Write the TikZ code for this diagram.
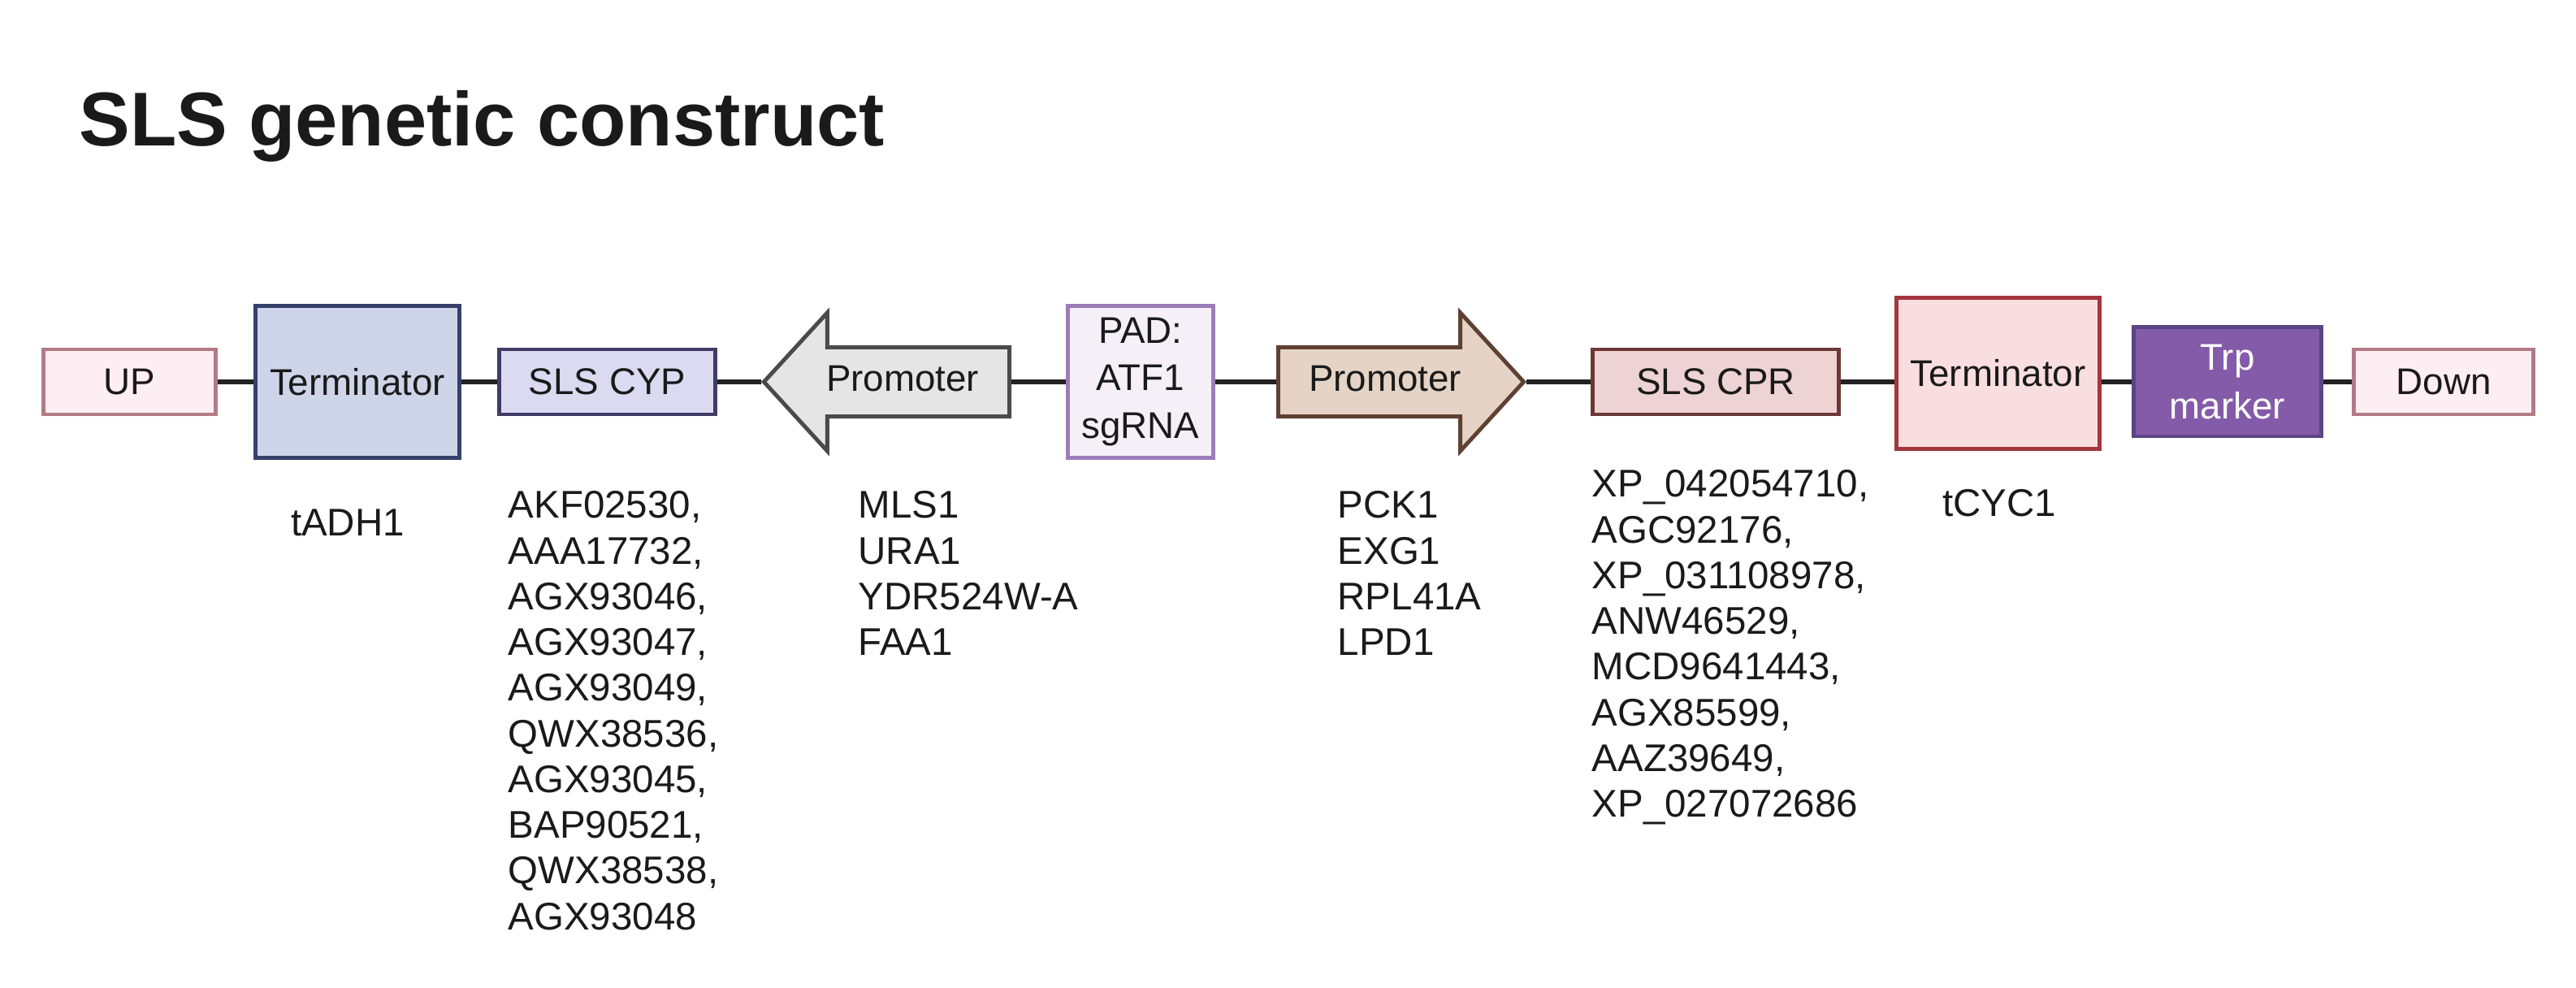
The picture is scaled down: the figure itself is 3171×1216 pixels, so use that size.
\documentclass[tikz,border=0pt]{standalone}
\usepackage{fontspec}
\setmainfont{Liberation Sans}
\usetikzlibrary{shapes.arrows}
\definecolor{inktext}{HTML}{1A1A1A}
\definecolor{backbonegray}{HTML}{222222}
\definecolor{flankfill}{HTML}{FDEEF3}
\definecolor{flankdraw}{HTML}{B27B86}
\definecolor{tadhfill}{HTML}{CFD5E8}
\definecolor{tadhdraw}{HTML}{35416B}
\definecolor{cypfill}{HTML}{DCDAF0}
\definecolor{cypdraw}{HTML}{413C66}
\definecolor{promlfill}{HTML}{E5E5E5}
\definecolor{promldraw}{HTML}{4A4A4A}
\definecolor{padfill}{HTML}{F5F0F8}
\definecolor{paddraw}{HTML}{9B7DB8}
\definecolor{promrfill}{HTML}{E5D4C6}
\definecolor{promrdraw}{HTML}{5E4133}
\definecolor{cprfill}{HTML}{EDD3D4}
\definecolor{cprdraw}{HTML}{6B3835}
\definecolor{tcycfill}{HTML}{F9DEE0}
\definecolor{tcycdraw}{HTML}{A3363F}
\definecolor{trpfill}{HTML}{845BA8}
\definecolor{trpdraw}{HTML}{5A4682}
\tikzset{
    part/.style={draw, rectangle, line width=1.4pt, inner sep=0pt, align=center,
            text=inktext, font=\fontsize{13}{16}\selectfont},
    promoter/.style={single arrow, draw, line width=1.4pt, inner xsep=0pt, inner ysep=5.3pt,
            text height=9.5pt, text depth=2.75pt, minimum height=3.02cm,
            single arrow head extend=0.425cm, single arrow tip angle=95,
            text=inktext, font=\fontsize{13}{16}\selectfont},
    genes/.style={anchor=north west, inner sep=0pt, align=left, text=inktext,
            font=\fontsize{13.5}{16}\selectfont},
    backbone/.style={line width=1.7pt, draw=backbonegray}
}
\begin{document}
\begin{tikzpicture}[x=0.01cm, y=-0.01cm]
            \useasboundingbox[fill=white] (0,0) rectangle (3171,1216);
            \node[anchor=base west, inner sep=0pt, text=inktext, font=\fontsize{26.7}{32}\selectfont\bfseries] (title) at (97,180) {SLS genetic construct};
            \node[part, fill=flankfill, draw=flankdraw, minimum width=2.12cm, minimum height=0.80cm] (up) at (159.5,470) {UP};
            \node[part, fill=tadhfill, draw=tadhdraw, minimum width=2.51cm, minimum height=1.86cm] (tadh) at (440,470) {Terminator};
            \node[part, fill=cypfill, draw=cypdraw, minimum width=2.66cm, minimum height=0.80cm] (cyp) at (747.5,470) {SLS CYP};
            \node[promoter, shape border rotate=180, fill=promlfill, draw=promldraw] (proml) at (1111,470) {Promoter};
            \node[part, fill=padfill, draw=paddraw, minimum width=1.79cm, minimum height=1.86cm, font=\fontsize{13}{16.6}\selectfont] (pad) at (1404,470) {PAD:\\ATF1\\sgRNA};
            \node[promoter, fill=promrfill, draw=promrdraw] (promr) at (1705,470) {Promoter};
            \node[part, fill=cprfill, draw=cprdraw, minimum width=3.03cm, minimum height=0.80cm] (cpr) at (2112,470) {SLS CPR};
            \node[part, fill=tcycfill, draw=tcycdraw, minimum width=2.50cm, minimum height=1.86cm] (tcyc) at (2459.5,459.5) {Terminator};
            \node[part, fill=trpfill, draw=trpdraw, text=white, minimum width=2.31cm, minimum height=1.34cm, font=\fontsize{13}{17}\selectfont] (trp) at (2742,470) {Trp\\marker};
            \node[part, fill=flankfill, draw=flankdraw, minimum width=2.21cm, minimum height=0.80cm] (down) at (3008,470) {Down};
            \draw[backbone] (up) -- (tadh);
            \draw[backbone] (tadh) -- (cyp);
            \draw[backbone] (cyp) -- (proml);
            \draw[backbone] (proml) -- (pad);
            \draw[backbone] (pad) -- (promr);
            \draw[backbone] (promr) -- (cpr);
            \draw[backbone] (cpr.east) -- (cpr.east -| tcyc.west);
            \draw[backbone] (trp.west -| tcyc.east) -- (trp.west);
            \draw[backbone] (trp) -- (down);
            \node[inner sep=0pt, text=inktext, font=\fontsize{13.5}{16}\selectfont] (tadhname) at (428,643) {tADH1};
            \node[genes] (cyplist) at (625,604) {AKF02530,\\AAA17732,\\AGX93046,\\AGX93047,\\AGX93049,\\QWX38536,\\AGX93045,\\BAP90521,\\QWX38538,\\AGX93048};
            \node[genes] (promllist) at (1056,604) {MLS1\\URA1\\YDR524W-A\\FAA1};
            \node[genes] (promrlist) at (1646,604) {PCK1\\EXG1\\RPL41A\\LPD1};
            \node[genes] (cprlist) at (1959,578) {XP\_042054710,\\AGC92176,\\XP\_031108978,\\ANW46529,\\MCD9641443,\\AGX85599,\\AAZ39649,\\XP\_027072686};
            \node[inner sep=0pt, text=inktext, font=\fontsize{13.5}{16}\selectfont] (tcycname) at (2461,619) {tCYC1};
\end{tikzpicture}
\end{document}
